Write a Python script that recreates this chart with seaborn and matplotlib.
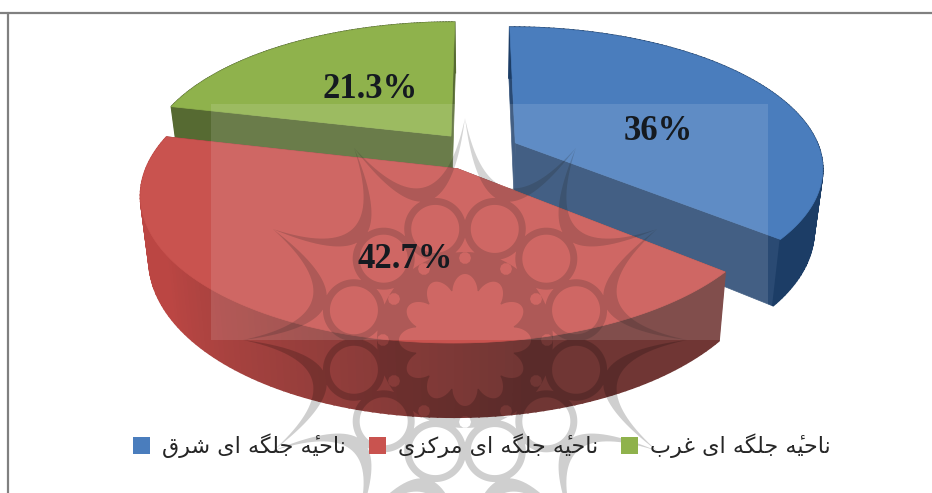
import numpy as np
import matplotlib
matplotlib.use('Agg')
import matplotlib.pyplot as plt
from matplotlib.patches import Patch, PathPatch, Rectangle
from matplotlib.path import Path
import seaborn as sb

# Values
regions = ["ناحیۀ جلگه ای شرق", "ناحیۀ جلگه ای مرکزی", "ناحیۀ جلگه ای غرب"]
shares = [36.0, 42.7, 21.3]
share_labels = ["36%", "42.7%", "21.3%"]

sb.set_theme(style="white")

top_colors = sb.color_palette(["#4a7dbd", "#c9534f", "#8fb24c"])
side_light = sb.color_palette(["#1c3d66", "#bb4643", "#566a32"])
side_dark = sb.color_palette(["#1c3d66", "#703634", "#566a32"])
flat_colors = sb.color_palette(["#2a4a73", "#703634", "#566a32"])

# Pie geometry in picture pixels
cx, cy = 477, 151
rx, ry = 305, 138
persp = 0.17
explode = 0.14
depth = 60
shrink = 0.975
label_xy = [(658, 132), (405, 259), (370, 90)]

# Presentation forms: isolated, final, initial, medial
forms = {
    "ا": ["\ufe8d", "\ufe8e", "\ufe8d", "\ufe8e"], "ب": ["\ufe8f", "\ufe90", "\ufe91", "\ufe92"],
    "ج": ["\ufe9d", "\ufe9e", "\ufe9f", "\ufea0"], "ح": ["\ufea1", "\ufea2", "\ufea3", "\ufea4"],
    "ر": ["\ufead", "\ufeae", "\ufead", "\ufeae"], "ز": ["\ufeaf", "\ufeb0", "\ufeaf", "\ufeb0"],
    "ش": ["\ufeb5", "\ufeb6", "\ufeb7", "\ufeb8"], "غ": ["\ufecd", "\ufece", "\ufecf", "\ufed0"],
    "ق": ["\ufed5", "\ufed6", "\ufed7", "\ufed8"], "ک": ["\ufb8e", "\ufb8f", "\ufb90", "\ufb91"],
    "گ": ["\ufb92", "\ufb93", "\ufb94", "\ufb95"], "ل": ["\ufedd", "\ufede", "\ufedf", "\ufee0"],
    "م": ["\ufee1", "\ufee2", "\ufee3", "\ufee4"], "ن": ["\ufee5", "\ufee6", "\ufee7", "\ufee8"],
    "ه": ["\ufee9", "\ufeea", "\ufeeb", "\ufeec"],
    # DejaVu has no final form of this one, so final heh plus hamza above
    "ۀ": ["\ufba4", "\ufeea\u0654", "\ufba4", "\ufeea\u0654"],
    "ی": ["\ufbfc", "\ufbfd", "\ufbfe", "\ufbff"],
}
no_next = set("ارزۀ")


def shape(text):
    # matplotlib does no joining or bidi, so do it here
    out = []
    for i, ch in enumerate(text):
        if ch not in forms:
            out.append(ch)
            continue
        prev = text[i-1] if i > 0 else " "
        nxt = text[i+1] if i < len(text)-1 else " "
        joins_prev = prev in forms and prev not in no_next
        joins_next = nxt in forms and ch not in no_next
        out.append(forms[ch][joins_prev + 2*joins_next])
    return "".join(out[::-1])


def project(u, v):
    w = 1 + persp*v
    return cx + rx*u/w, cy - ry*v/w, w


def lower(x, y, w):
    return cx + (x-cx)*shrink, y + depth/w


def polar_loop(r, t, x0=465, y0=340):
    return np.c_[x0 + r*np.cos(t), y0 - r*np.sin(t)]


def add_loop(verts, codes, pts):
    verts.extend(pts)
    verts.append(pts[0])
    codes.extend([Path.MOVETO] + [Path.LINETO]*(len(pts)-1) + [Path.CLOSEPOLY])


def rosette():
    # The page watermark, everything in one path so overlaps do not darken twice
    verts, codes = [], []
    t = np.linspace(0, 2*np.pi, 300, endpoint=False)
    add_loop(verts, codes, polar_loop(88, t))
    add_loop(verts, codes, polar_loop(48 + 18*np.abs(np.cos(6*t))**0.7, t)[::-1])
    for k in range(12):
        a = k*np.pi/6
        dx, dy = 82*np.cos(a), -82*np.sin(a)
        add_loop(verts, codes, polar_loop(6 + 0*t[::30], t[::30], 465+dx, 340+dy)[::-1])
        # Ring
        b = a + np.pi/12
        rx0, ry0 = 465 + 115*np.cos(b), 340 - 115*np.sin(b)
        add_loop(verts, codes, polar_loop(31 + 0*t, t, rx0, ry0))
        add_loop(verts, codes, polar_loop(24 + 0*t, t, rx0, ry0)[::-1])
        # Crescent between two star points
        s = np.linspace(0, 1, 40)
        pa = 222*np.array([np.cos(a), -np.sin(a)])
        pb = 222*np.array([np.cos(a+np.pi/6), -np.sin(a+np.pi/6)])
        mid = np.array([np.cos(b), -np.sin(b)])
        curves = []
        for rm in (158, 144):
            rc = 2*rm - 222*np.cos(np.pi/12)
            pc = rc*mid
            curves.append((1-s)[:, None]**2*pa + (2*s*(1-s))[:, None]*pc + (s**2)[:, None]*pb)
        add_loop(verts, codes, np.r_[curves[0], curves[1][::-1]] + [465, 340])
    return Path(np.array(verts), codes)


edges = np.cumsum([0] + shares)/100*2*np.pi
fig = plt.figure(figsize=(9.32, 4.93), dpi=100)
ax = fig.add_axes([0, 0, 1, 1])
ax.set_xlim(0, 932)
ax.set_ylim(493, 0)
ax.axis("off")

# Frame
ax.plot([0, 932], [13, 13], color="#808080", lw=1.6)
ax.plot([8, 8], [13, 493], color="#808080", lw=1.6)

# Back wedges first: green, blue, red
for i in [2, 0, 1]:
    a, b = edges[i], edges[i+1]
    mid = (a+b)/2
    off_u, off_v = explode*np.sin(mid), explode*np.cos(mid)
    t = np.linspace(a, b, 120)
    x, y, w = project(off_u + np.sin(t), off_v + np.cos(t))
    x0, y0, w0 = project(off_u, off_v)
    xl, yl = lower(x, y, w)
    x0l, y0l = lower(x0, y0, w0)
    # Flat cut faces
    for j in [0, -1]:
        ax.fill([x0, x[j], xl[j], x0l], [y0, y[j], yl[j], y0l], color=flat_colors[i], lw=0.5)
    # Curved rim, shaded along the arc
    c1, c2 = np.array(side_light[i]), np.array(side_dark[i])
    for j in range(len(t)-1):
        frac = (t[j]-a)/(b-a)
        c = c2 + (c1-c2)*np.clip((frac-0.25)/0.45, 0, 1)
        ax.fill([x[j], x[j+1], xl[j+1], xl[j]], [y[j], y[j+1], yl[j+1], yl[j]], color=c, lw=1.2)
    # Top face
    ax.fill(np.r_[x0, x], np.r_[y0, y], color=top_colors[i], lw=0.5)

ax.add_patch(PathPatch(rosette(), facecolor="black", edgecolor="none", alpha=0.19))

# Lighter box from the page behind
ax.add_patch(Rectangle((211, 104), 557, 236, color="white", alpha=0.12, lw=0))

for text, (lx, ly) in zip(share_labels, label_xy):
    ax.text(lx, ly, text, ha="center", va="center", fontsize=25, fontweight="bold",
            family="Liberation Serif", color="#151a20")

handles = [Patch(facecolor=c, edgecolor="none") for c in top_colors]
ax.legend(handles, [shape(s) for s in regions], ncol=3, frameon=False,
          loc="center", bbox_to_anchor=(482/932, 1-446/493), handlelength=0.75, handleheight=0.75,
          handletextpad=0.55, columnspacing=1.05, prop={"family": "DejaVu Sans", "size": 16})

plt.savefig("out.png", dpi=100)
